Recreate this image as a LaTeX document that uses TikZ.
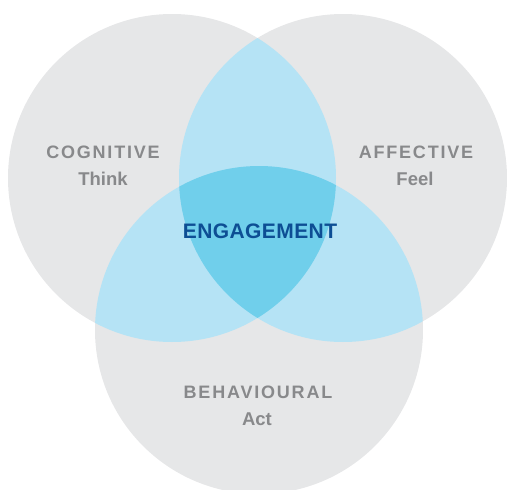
\documentclass[tikz,border=0pt]{standalone}
\usepackage{fontspec}
\setmainfont{Liberation Sans}
\newfontfamily\spacedfont[LetterSpace=10]{Liberation Sans}
\newfontfamily\engfont[LetterSpace=2]{Liberation Sans}
\definecolor{ringgray}{HTML}{E6E7E8}
\definecolor{lensblue}{HTML}{B5E3F5}
\definecolor{coreblue}{HTML}{70CFEB}
\definecolor{labelgray}{HTML}{88898B}
\definecolor{engblue}{HTML}{0D4E94}
\begin{document}
\begin{tikzpicture}[x=1pt, y=-1pt,
    ring/.style={fill=ringgray},
    title/.style={text=labelgray, anchor=base, font=\spacedfont\bfseries\fontsize{18}{21}\selectfont},
    subtitle/.style={text=labelgray, anchor=base, font=\bfseries\fontsize{18.5}{21}\selectfont}]
    \useasboundingbox (0,0) rectangle (507,490);
    \def\rr{164pt}
    \coordinate (C) at (172,178);
    \coordinate (A) at (343,178);
    \coordinate (B) at (259,330);
    % the three sets
    \fill[ring] (C) circle[radius=\rr];
    \fill[ring] (A) circle[radius=\rr];
    \fill[ring] (B) circle[radius=\rr];
    % pairwise overlaps
    \begin{scope}
        \clip (C) circle[radius=\rr];
        \fill[lensblue] (A) circle[radius=\rr];
        \fill[lensblue] (B) circle[radius=\rr];
    \end{scope}
    \begin{scope}
        \clip (A) circle[radius=\rr];
        \fill[lensblue] (B) circle[radius=\rr];
    \end{scope}
    % all three
    \begin{scope}
        \clip (C) circle[radius=\rr];
        \clip (A) circle[radius=\rr];
        \fill[coreblue] (B) circle[radius=\rr];
    \end{scope}
    \node[title] (cog) at (103,158) {COGNITIVE};
    \node[subtitle] (think) at (103,185) {Think};
    \node[title] (aff) at (416,158) {AFFECTIVE};
    \node[subtitle] (feel) at (415,185) {Feel};
    \node[title] (beh) at (258,398) {BEHAVIOURAL};
    \node[subtitle] (act) at (257,425) {Act};
    \node[anchor=base, text=engblue, font=\engfont\bfseries\fontsize{21}{25}\selectfont] (eng) at (260,238) {ENGAGEMENT};
\end{tikzpicture}
\end{document}
